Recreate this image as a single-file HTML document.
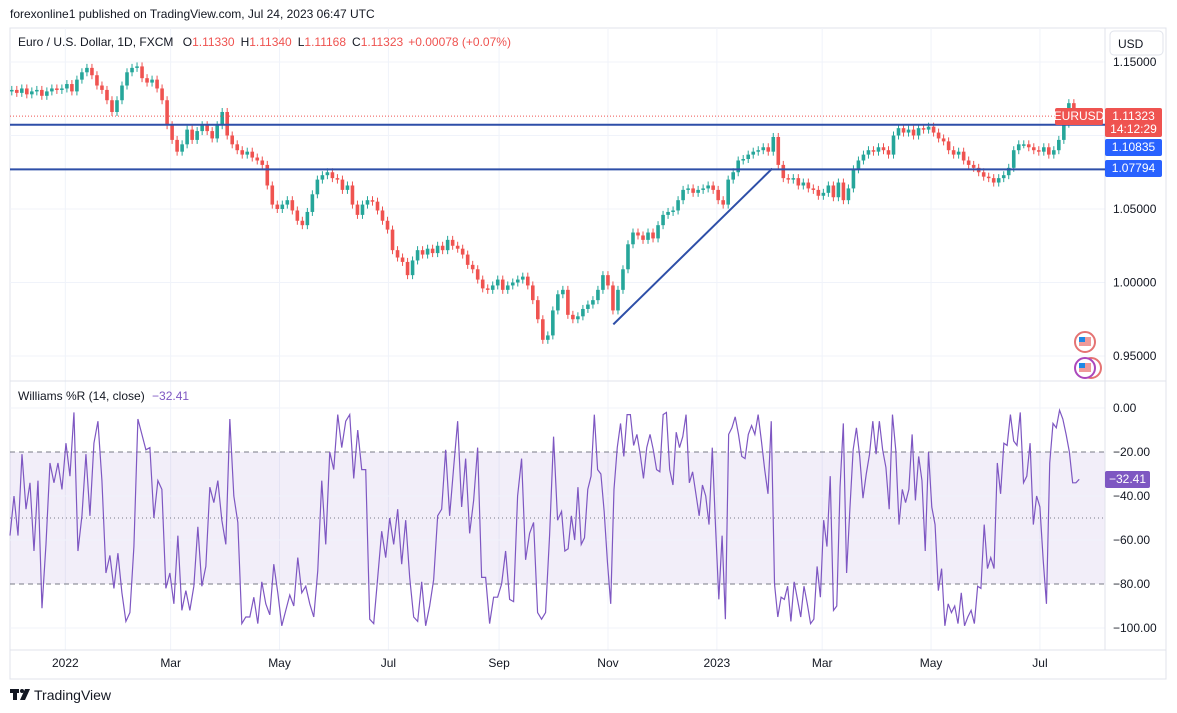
<!DOCTYPE html>
<html><head><meta charset="utf-8"><style>
body{margin:0;width:1177px;height:713px;background:#fff;overflow:hidden;font-family:"Liberation Sans",sans-serif;}
svg{position:absolute;left:0;top:0}
</style></head><body>
<svg id="c" width="1177" height="713">
<text x="10" y="18" font-size="12" fill="#131722">forexonline1 published on TradingView.com, Jul 24, 2023 06:47 UTC</text>
<rect x="10" y="28" width="1156" height="651" fill="none" stroke="#e0e3eb"/>
<g id="grid"></g>
<rect x="10" y="452" width="1095" height="132" fill="#7e57c2" fill-opacity="0.1"/>
<g id="wrlines"></g>
<line x1="10" y1="381" x2="1166" y2="381" stroke="#e0e3eb"/>
<line x1="1105" y1="28" x2="1105" y2="650" stroke="#e0e3eb"/>
<line x1="10" y1="650" x2="1166" y2="650" stroke="#e0e3eb"/>
<g id="candles"></g>
<g id="wr"></g>
<g id="levels"></g>
<g id="axes"></g>
<text x="18" y="46" font-size="12" fill="#131722">Euro / U.S. Dollar, 1D, FXCM <tspan dx="6">O</tspan><tspan fill="#ef5350">1.11330</tspan><tspan dx="6">H</tspan><tspan fill="#ef5350">1.11340</tspan><tspan dx="6">L</tspan><tspan fill="#ef5350">1.11168</tspan><tspan dx="6">C</tspan><tspan fill="#ef5350">1.11323</tspan><tspan dx="5" fill="#ef5350">+0.00078 (+0.07%)</tspan></text>
<text x="18" y="400" font-size="12" fill="#131722">Williams %R (14, close) <tspan dx="4" fill="#7e57c2">−32.41</tspan></text>
<g><rect x="1110" y="31" width="53" height="24" rx="4" fill="#fff" stroke="#e0e3eb"/><text x="1118" y="48" font-size="12" fill="#131722">USD</text></g>
<g><circle cx="1085" cy="342" r="10" fill="#fff" stroke="#e57373" stroke-width="2"/><rect x="1079" y="337" width="12" height="9" fill="#ef9a9a"/><rect x="1079" y="337" width="6" height="5" fill="#1e88e5"/></g>
<g><circle cx="1091" cy="368" r="10" fill="#fff" stroke="#e57373" stroke-width="2"/><circle cx="1085" cy="368" r="10" fill="#fff" stroke="#ab47bc" stroke-width="2"/><rect x="1079" y="363" width="12" height="9" fill="#ef9a9a"/><rect x="1079" y="363" width="6" height="5" fill="#1e88e5"/></g>
<g><rect x="10" y="689" width="9" height="4" fill="#131722"/><rect x="13" y="689" width="4" height="11" fill="#131722"/><circle cx="22" cy="691" r="2" fill="#131722"/><polygon points="25,689 30,689 25,700 20,700" fill="#131722"/><text x="34" y="700" font-size="14" fill="#131722">TradingView</text></g>
</svg>
<script>
// ---- data ----
const closes=[1.131,1.129,1.132,1.128,1.130,1.131,1.127,1.130,1.132,1.131,
1.132,1.135,1.130,1.138,1.143,1.146,1.141,1.134,1.131,1.124,
1.116,1.124,1.134,1.143,1.146,1.147,1.139,1.136,1.138,1.132,
1.124,1.107,1.097,1.089,1.094,1.104,1.097,1.103,1.107,1.103,
1.098,1.107,1.116,1.100,1.094,1.090,1.087,1.089,1.085,1.083,
1.080,1.066,1.053,1.050,1.053,1.056,1.049,1.042,1.039,1.048,
1.060,1.070,1.073,1.075,1.071,1.070,1.063,1.066,1.053,1.046,
1.053,1.056,1.055,1.049,1.042,1.036,1.022,1.017,1.014,1.005,
1.015,1.022,1.019,1.023,1.020,1.025,1.022,1.029,1.025,1.023,
1.019,1.012,1.009,1.002,0.996,0.995,0.998,1.002,0.995,0.998,
1.000,1.002,1.004,0.998,0.988,0.975,0.961,0.964,0.981,0.992,
0.995,0.978,0.975,0.977,0.982,0.985,0.988,0.995,1.005,0.998,
0.981,0.995,1.009,1.026,1.034,1.032,1.029,1.034,1.030,1.039,
1.046,1.048,1.049,1.056,1.063,1.064,1.061,1.063,1.064,1.066,
1.063,1.056,1.053,1.070,1.075,1.083,1.084,1.087,1.089,1.090,
1.092,1.089,1.099,1.080,1.071,1.070,1.071,1.066,1.068,1.064,
1.063,1.059,1.061,1.066,1.058,1.068,1.056,1.064,1.077,1.083,
1.087,1.090,1.089,1.092,1.090,1.087,1.100,1.105,1.102,1.104,
1.100,1.105,1.104,1.106,1.102,1.098,1.096,1.090,1.087,1.089,
1.083,1.080,1.078,1.075,1.072,1.071,1.068,1.071,1.073,1.078,
1.090,1.094,1.094,1.092,1.090,1.089,1.092,1.087,1.090,1.097,
1.108,1.122,1.1132];
const firstOpen=1.130;
const candleStartDay=1, candleEndDay=596;
const wrPart1=[-58,-40,-58,-21,-46,-34,-65,-33,-91,-62,-25,-34,-25,-37,-16,-31,-2,-65,-49,-21,-49,-16,-6,-33,-75,-67,-82,-66,-84,-97,-93,-63,-5,-12,-19,-18,-50,-33,-37,-82,-75,-89,-58,-92,-83,-92,-81,-54,-81,-72,-36,-43,-33,-51,-62,-5,-40,-52,-98,-95,-95,-86,-98,-79,-89,-94,-71,-84,-99,-92,-85,-90,-68,-84,-81,-89,-95,-74,-33,-62,-20,-28,-3,-18,-6,-3,-32,-10,-28,-28,-96,-98,-77,-56,-68,-50,-62,-46,-71,-51,-77,-95,-97,-79,-99,-90,-78,-49,-46,-19,-49,-27,-6,-45,-23,-57,-42,-18,-77,-77,-98,-86,-86,-80,-65,-87,-88,-40,-23,-69,-57,-52,-93,-96,-93,-58,-13,-51];
const wrPart2=[-47,-65,-64,-49,-60,-36,-62,-59,-37,-31,-3,-28,-30,-47,-70,-89,-37,-18,-7,-22,-3,-3,-17,-12,-21,-32,-18,-12,-19,-28,-29,-3,-2,-28,-35,-11,-18,-13,-3,-34,-29,-39,-49,-35,-40,-53,-18,-54,-87,-58,-96,-12,-9,-4,-12,-22,-23,-12,-8,-12,-3,-15,-28,-39,-6,-80,-95,-86,-87,-81,-97,-79,-87,-95,-81,-89,-98,-96,-72,-86,-51,-63,-31,-92,-90,-36,-7,-75,-46,-19,-9,-22,-41,-30,-21,-6,-21,-6,-19,-27,-46,-3,-19,-53,-37,-43,-37,-12,-42,-22,-33,-65,-20,-45,-53,-83,-73,-99,-89,-93,-90,-98,-84,-99,-95,-92,-98,-81,-82,-53,-73,-68,-73,-25,-39,-16,-17,-3,-15,-17,-2,-34,-31,-16,-53,-40,-45,-69,-89,-25,-7,-9,-1,-5,-12,-20,-34,-34,-32.41];
const wrSplitDay=309, wrStartDay=0, wrEndDay=599;
const monthLabels=["2022","Mar","May","Jul","Sep","Nov","2023","Mar","May","Jul"];
const monthDays=[31,90,151,212,274,335,396,455,516,577];
const priceTicks=[1.15,1.05,1.00,0.95];
const priceGrid=[1.15,1.10,1.05,1.00,0.95];
const wrTicks=[0,-20,-40,-60,-80,-100];
const levels=[1.10835,1.07794];
const trend=[[338,0.9715],[427,1.0775]];
// ---- scales ----
const xD=d=>10+d*1.785;
const yP=p=>62+(1.15-p)*1470;
const yW=v=>408-v*2.2;
const NS="http://www.w3.org/2000/svg";
function mk(parent,tag,attrs){const e=document.createElementNS(NS,tag);for(const k in attrs)e.setAttribute(k,attrs[k]);document.getElementById(parent).appendChild(e);return e;}
// grid
monthDays.forEach((d,i)=>{
  const l=mk('grid','line',{x1:xD(d),x2:xD(d),y1:28,y2:650,stroke:'#f0f3fa'});
  
  
  const t=mk('axes','text',{x:xD(d),y:667,'font-size':12,fill:'#131722','text-anchor':'middle'});
  t.textContent=monthLabels[i];
  
  
});
priceGrid.forEach(p=>{
  const l=mk('grid','line',{x1:10,x2:1105,y1:yP(p),y2:yP(p),stroke:'#f0f3fa'});
  
  
});
priceTicks.forEach(p=>{
  const t=mk('axes','text',{x:1113,y:yP(p)+4,'font-size':12,fill:'#131722'});
  t.textContent=p.toFixed(5);
  
  
});
wrTicks.forEach(v=>{
  const dash=(v===-20||v===-80);
  const l=mk('wrlines','line',{x1:10,x2:1105,y1:yW(v),y2:yW(v),stroke:dash?'#787b86':'#f0f3fa','stroke-dasharray':dash?'5,4':''});
  
  
  const t=mk('axes','text',{x:1113,y:yW(v)+4,'font-size':12,fill:'#131722'});
  t.textContent=(v===0?'0.00':'−'+Math.abs(v).toFixed(2));
  
  
});
const mid=mk('wrlines','line',{x1:10,x2:1105,y1:yW(-50),y2:yW(-50),stroke:'#787b86','stroke-dasharray':'1,3'});


// candles
const n=closes.length;
closes.forEach((c,i)=>{
  const o=i===0?firstOpen:closes[i-1];
  const x=xD(candleStartDay+(candleEndDay-candleStartDay)*i/(n-1));
  const up=c>=o, col=up?'#26a69a':'#ef5350';
  const top=yP(Math.max(o,c)), bot=yP(Math.min(o,c));
  const w=mk('candles','line',{x1:x,x2:x,y1:top-4,y2:bot+4,stroke:col,'stroke-width':1});
  
  
  const b=mk('candles','rect',{x:x-1.8,y:top,width:3.6,height:Math.max(1.5,bot-top),fill:col});
  
  
});
// williams %R line
let pts=[];
wrPart1.forEach((v,i)=>pts.push([xD(wrStartDay+(wrSplitDay-wrStartDay)*i/(wrPart1.length)),yW(v)]));
wrPart2.forEach((v,i)=>pts.push([xD(wrSplitDay+(wrEndDay-wrSplitDay)*i/(wrPart2.length-1)),yW(v)]));
const wl=mk('wr','polyline',{points:pts.map(p=>p.join(',')).join(' '),fill:'none',stroke:'#7e57c2','stroke-width':1.2});


// levels
levels.forEach(p=>{
  const l=mk('levels','line',{x1:10,x2:1105,y1:yP(p)+1.5,y2:yP(p)+1.5,stroke:'#2e4fa8','stroke-width':2});
  
  
});
const last=closes[n-1];
const dl=mk('levels','line',{x1:10,x2:1105,y1:yP(last),y2:yP(last),stroke:'#ef5350','stroke-dasharray':'1,2'});


const tl=mk('levels','line',{x1:xD(trend[0][0]),y1:yP(trend[0][1]),x2:xD(trend[1][0]),y2:yP(trend[1][1]),stroke:'#2e4fa8','stroke-width':2});


// labels
function box(x,y,w,h,fill,lines,name){
  const r=mk('levels','rect',{x:x,y:y,width:w,height:h,fill:fill,rx:2});
  
  
  lines.forEach((s,i)=>{const t=mk('levels','text',{x:x+w/2,y:y+12+i*13,'font-size':12,fill:'#fff','text-anchor':'middle'});t.textContent=s;});
}
box(1055,108,48,17,'#ef5350',['EURUSD'],'symbol-label');
box(1105,108,57,29,'#ef5350',['1.11323','14:12:29'],'last-price-label');
box(1105,139,57,17,'#2962ff',['1.10835'],'level-label-1');
box(1105,160,57,17,'#2962ff',['1.07794'],'level-label-2');
box(1105,471,45,17,'#7e57c2',['−32.41'],'wr-value-label');
</script>
</body></html>
